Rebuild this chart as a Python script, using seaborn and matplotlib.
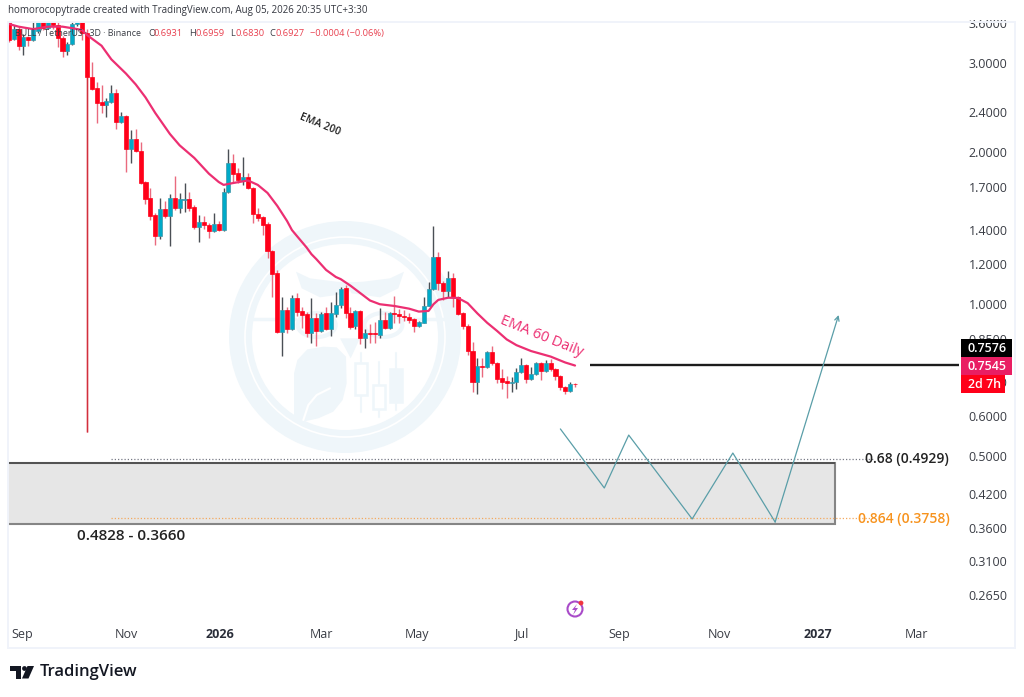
import numpy as np
import pandas as pd
import seaborn as sns
import matplotlib
matplotlib.use("Agg")
import matplotlib.pyplot as plt
import matplotlib.dates as mdates
from matplotlib.patches import Rectangle, Circle, Ellipse, Polygon, Wedge

# 3D candles
opens = [3.75,
    3.347, 3.503, 3.243, 3.378, 3.332, 3.471, 3.72, 3.519, 3.74, 3.567,
    3.363, 3.169, 3.272, 3.584, 3.75, 3.44, 2.814, 2.676, 2.511, 2.476,
    2.511, 2.616, 2.292, 2.356, 2.026, 2.120, 2.008, 1.743, 1.621, 1.500,
    1.363, 1.542, 1.493, 1.621, 1.549, 1.606, 1.614, 1.556, 1.420, 1.453,
    1.433, 1.394, 1.440, 1.400, 1.666, 1.902, 1.817, 1.751, 1.784, 1.696,
    1.507, 1.486, 1.440, 1.272, 1.151, 0.880, 0.972, 0.892, 1.027, 0.968,
    0.955, 0.876, 0.938, 0.884, 0.959, 0.892, 0.955, 0.995, 1.075, 0.959,
    0.904, 0.968, 0.856, 0.876, 0.875, 0.868, 0.929, 0.896, 0.959, 0.955,
    0.946, 0.942, 0.933, 0.904, 0.916, 0.991, 1.070, 1.238, 1.100, 1.060,
    1.125, 1.032, 0.959, 0.904, 0.806, 0.700, 0.753, 0.750, 0.803, 0.763,
    0.713, 0.703, 0.697, 0.700, 0.733, 0.757, 0.710, 0.726, 0.763, 0.736,
    0.763, 0.743, 0.720, 0.685, 0.672, 0.6931]
highs = [3.80,
    3.56, 3.54, 3.43, 3.40, 3.65, 3.80, 3.75, 3.80, 3.85, 3.65,
    3.40, 3.30, 3.64, 3.85, 3.85, 3.50, 3.014, 2.751, 2.714, 2.557,
    2.714, 2.664, 2.399, 2.37, 2.210, 2.220, 2.092, 1.75, 1.696, 1.51,
    1.621, 1.599, 1.651, 1.792, 1.658, 1.735, 1.666, 1.570, 1.500, 1.493,
    1.446, 1.514, 1.459, 1.696, 2.026, 1.981, 1.859, 1.954, 1.817, 1.70,
    1.549, 1.493, 1.453, 1.278, 1.167, 1.032, 0.986, 1.041, 1.051, 0.986,
    0.964, 1.027, 0.959, 0.964, 0.986, 1.009, 1.056, 1.080, 1.09, 0.986,
    0.972, 0.972, 0.892, 0.912, 0.921, 0.982, 0.964, 0.964, 1.037, 0.977,
    0.972, 0.959, 0.938, 0.925, 1.032, 1.105, 1.426, 1.267, 1.11, 1.162,
    1.15, 1.035, 0.965, 0.91, 0.840, 0.781, 0.78, 0.805, 0.825, 0.767,
    0.743, 0.72, 0.717, 0.746, 0.781, 0.76, 0.750, 0.768, 0.768, 0.774,
    0.777, 0.746, 0.722, 0.687, 0.700, 0.6959]
lows = [3.30,
    3.33, 3.183, 3.112, 3.243, 3.32, 3.44, 3.49, 3.50, 3.50, 3.228,
    3.084, 3.112, 3.26, 3.55, 3.332, 0.557, 2.652, 2.282, 2.388, 2.345,
    2.499, 2.220, 2.28, 1.825, 1.902, 2.0, 1.73, 1.577, 1.466, 1.308,
    1.344, 1.480, 1.302, 1.534, 1.514, 1.520, 1.527, 1.407, 1.326, 1.407,
    1.350, 1.39, 1.395, 1.395, 1.658, 1.735, 1.735, 1.720, 1.688, 1.446,
    1.459, 1.369, 1.232, 1.032, 0.876, 0.788, 0.876, 0.888, 0.946, 0.896,
    0.860, 0.836, 0.825, 0.880, 0.888, 0.864, 0.942, 0.982, 0.938, 0.892,
    0.892, 0.833, 0.818, 0.836, 0.836, 0.856, 0.892, 0.892, 0.918, 0.916,
    0.925, 0.916, 0.880, 0.900, 0.914, 0.989, 1.065, 1.065, 1.018, 1.032,
    0.986, 0.952, 0.892, 0.792, 0.669, 0.663, 0.717, 0.747, 0.758, 0.697,
    0.678, 0.651, 0.669, 0.678, 0.730, 0.697, 0.705, 0.722, 0.706, 0.733,
    0.735, 0.705, 0.675, 0.663, 0.670, 0.6830]
closes = [3.332,
    3.503, 3.243, 3.378, 3.332, 3.503, 3.72, 3.519, 3.74, 3.567, 3.363,
    3.169, 3.272, 3.584, 3.75, 3.44, 2.814, 2.664, 2.499, 2.476, 2.522,
    2.616, 2.292, 2.356, 2.026, 2.120, 2.008, 1.735, 1.614, 1.493, 1.363,
    1.542, 1.493, 1.621, 1.549, 1.614, 1.614, 1.549, 1.420, 1.453, 1.433,
    1.394, 1.440, 1.400, 1.666, 1.902, 1.809, 1.759, 1.784, 1.696, 1.507,
    1.480, 1.433, 1.272, 1.146, 0.880, 0.972, 0.892, 1.027, 0.964, 0.951,
    0.876, 0.938, 0.884, 0.955, 0.892, 0.959, 0.995, 1.070, 0.959, 0.900,
    0.968, 0.856, 0.876, 0.872, 0.871, 0.929, 0.896, 0.959, 0.955, 0.946,
    0.942, 0.929, 0.904, 0.921, 0.991, 1.070, 1.238, 1.100, 1.060, 1.125,
    1.032, 0.955, 0.904, 0.806, 0.700, 0.753, 0.750, 0.803, 0.763, 0.710,
    0.700, 0.697, 0.700, 0.733, 0.757, 0.710, 0.726, 0.763, 0.736, 0.763,
    0.743, 0.720, 0.685, 0.672, 0.694, 0.6927]

# EMA line: candle number (first candle = 0) and value
ema_bars = [0, 2, 5, 8, 11, 13, 15, 16, 19, 21, 24, 26, 28, 30, 33, 35, 38, 41, 43, 44,
            46, 49, 51, 53, 55, 57, 58, 59, 61, 62, 63, 65, 67, 68, 70, 72, 74, 76, 79, 82,
            84, 86, 87, 88, 90, 92, 94, 96, 98, 100, 102, 104, 107, 111, 114, 116]
ema_vals = [3.584, 3.54, 3.50, 3.54, 3.54, 3.515, 3.487, 3.409, 3.245, 3.05, 2.858, 2.72,
            2.564, 2.388, 2.17, 2.06, 1.945, 1.81, 1.743, 1.72, 1.735, 1.755, 1.72, 1.658,
            1.563, 1.459, 1.40, 1.363, 1.293, 1.254, 1.226, 1.167, 1.13, 1.119, 1.086, 1.05,
            1.015, 0.998, 0.99, 0.978, 0.965, 0.968, 0.998, 1.018, 1.028, 1.027, 1.003, 0.957,
            0.917, 0.884, 0.85, 0.828, 0.806, 0.786, 0.765, 0.7545]

# hand drawn projection
path_dates = ["2026-07-27", "2026-08-23", "2026-09-07", "2026-10-16", "2026-11-10", "2026-12-06", "2027-01-14"]
path_vals = [0.565, 0.4316, 0.5494, 0.3747, 0.5062, 0.3695, 0.950]

zone_top, zone_bottom = 0.4828, 0.3660
fib_68, fib_864 = 0.4929, 0.3758
level = 0.7576

price_ticks = [3.6, 3.0, 2.4, 2.0, 1.7, 1.4, 1.2, 1.0, 0.85, 0.7, 0.6, 0.5, 0.42, 0.36, 0.31, 0.265]
# labels sit on the first candle slot of the month, so not always on the 1st
month_dates = ["2025-08-30", "2025-11-02", "2025-12-30", "2026-03-02", "2026-04-30", "2026-07-03",
               "2026-09-01", "2026-11-02", "2027-01-01", "2027-03-03"]
month_labels = ["Sep", "Nov", "2026", "Mar", "May", "Jul", "Sep", "Nov", "2027", "Mar"]

sns.set_theme(style="white")
plt.rcParams['font.family'] = ['Open Sans', 'DejaVu Sans']

RED = "#ff0019"
TEAL = "#00aac8"
PINK = "#ec2f72"
PALE = "#eff6fa"
INK = "#2a2e39"

W, H = 1024, 697
fig = plt.figure(figsize=(W / 100, H / 100), dpi=100)


def to_num(d):
    return mdates.date2num(pd.Timestamp(d))


def page_axes(zorder):
    # full page axes working in picture pixels, for the decorations
    a = fig.add_axes([0, 0, 1, 1], zorder=zorder)
    a.set_xlim(0, W)
    a.set_ylim(H, 0)
    a.axis("off")
    a.patch.set_alpha(0)
    return a


# watermark sits behind the chart
back = page_axes(-1)
back.add_patch(Wedge((345, 337), 116, 0, 360, width=23, color=PALE, lw=0))
back.add_patch(Circle((345, 337), 100, fill=False, ec="white", lw=1.2))


def wm(x, y):
    return 220 + x / 3, 210 + y / 3


for pts in ([(228, 185), (270, 205), (350, 215), (405, 218), (385, 250), (300, 262), (245, 235)],
            [(552, 185), (510, 205), (430, 215), (375, 218), (395, 250), (480, 262), (535, 235)],
            [(360, 385), (420, 385), (392, 445)],
            [(222, 490), (232, 450), (262, 418), (310, 410), (350, 412), (378, 440), (380, 520), (368, 570),
             (340, 605), (295, 625), (250, 635), (222, 635)]):
    back.add_patch(Polygon([wm(*p) for p in pts], color=PALE, lw=0))
back.plot(*zip(wm(250, 630), wm(265, 585), wm(290, 555), wm(330, 535)), color="white", lw=1.5)
for cx in (290, 490):
    back.add_patch(Ellipse(wm(cx, 345), 38, 24, fill=False, ec=PALE, lw=3))
for x0, x1 in ((100, 225), (555, 690)):
    back.plot(*zip(wm(x0, 328), wm(x1, 328)), color=PALE, lw=2.5)
for cx, top_y, bot, w0, w1, filled in ((423, 460, 555, 430, 605, False), (477, 525, 598, 455, 620, False),
                                       (529, 477, 575, 430, 600, True)):
    back.plot(*zip(wm(cx, w0), wm(cx, w1)), color=PALE, lw=1.5)
    bx, by = wm(cx - 18, top_y)
    back.add_patch(Rectangle((bx, by), 12, (bot - top_y) / 3, fc=PALE if filled else "white", ec=PALE, lw=1.8, zorder=3))

# main chart
ax = fig.add_axes([8 / W, 1 - 622 / H, (959 - 8) / W, (622 - 22) / H], zorder=1)
ax.patch.set_alpha(0)

bar_dates = pd.date_range(end="2026-08-05", periods=len(opens), freq="3D")
df = pd.DataFrame({"x": mdates.date2num(bar_dates), "o": opens, "h": highs, "l": lows, "c": closes})
df["up"] = df["c"] >= df["o"]
df["top"] = df[["o", "c"]].max(axis=1)
df["bottom"] = df[["o", "c"]].min(axis=1)

ax.set_yscale("log")
for up, wick_col, body_col, edge_col in ((True, "#4a4f55", TEAL, "#3e96a8"), (False, "#ea6a7e", RED, RED)):
    part = df[df["up"] == up]
    ax.vlines(part["x"], part["l"], part["h"], color=wick_col, lw=1, zorder=3)
    ax.bar(part["x"], part["top"] - part["bottom"], bottom=part["bottom"], width=2.5,
           color=body_col, edgecolor=edge_col, linewidth=0.5, zorder=4)
# the long flush wick is darker than the others
flush = df.loc[df["l"].idxmin()]
ax.vlines(flush["x"], flush["l"], flush["bottom"], color="#d22f3c", lw=1, zorder=3)

ema = pd.DataFrame({"x": df["x"].values[ema_bars], "y": ema_vals})
sns.lineplot(data=ema, x="x", y="y", color=PINK, lw=1.6, ax=ax, zorder=5, sort=False, estimator=None)

path = pd.DataFrame({"x": mdates.date2num(pd.to_datetime(path_dates)), "y": path_vals})
sns.lineplot(data=path.iloc[:-1], x="x", y="y", color="#5a9ea8", lw=0.9, ax=ax, zorder=5, sort=False, estimator=None)
# last leg carries the arrow head
ax.annotate("", xy=(path["x"].iloc[-1], path["y"].iloc[-1]), xytext=(path["x"].iloc[-2], path["y"].iloc[-2]),
            arrowprops=dict(arrowstyle="->", color="#5a9ea8", lw=0.9, mutation_scale=8, shrinkA=0, shrinkB=0), zorder=5)

x_left, x_right = to_num("2025-08-21") + 0.5, to_num("2027-03-29")
zone_end = to_num("2027-01-12")
ax.add_patch(Rectangle((x_left - 5, zone_bottom), zone_end - x_left + 5, zone_top - zone_bottom,
                       fc="#e6e6e6", ec="#858585", lw=1.5, zorder=1))
ax.hlines(zone_top, x_left, zone_end, color="#444444", lw=1.1, zorder=1.5)

fib_start, fib_end = to_num("2025-10-24"), to_num("2027-02-04")
ax.hlines(fib_68, fib_start, fib_end, color="#787b86", lw=0.9, ls=(0, (1, 1.6)), zorder=2)
ax.hlines(fib_864, fib_start, fib_end, color="#f4a95f", lw=0.9, ls=(0, (1, 1.6)), zorder=2)
ax.hlines(level, to_num("2026-08-14"), x_right, color="#1c1c1c", lw=1.7, zorder=2)

ax.set_xlim(x_left, x_right)
ax.set_ylim(0.2342, 3.616)
sns.despine(ax=ax, left=True, right=True, top=True, bottom=True)
ax.set_xlabel("")
ax.set_ylabel("")

ax.yaxis.tick_right()
ax.set_yticks(price_ticks)
ax.set_yticklabels([f"{p:.4f}" for p in price_ticks])
ax.minorticks_off()
ax.tick_params(axis="y", length=0, pad=7, labelsize=9, labelcolor="#3a3d45")
ax.set_xticks([to_num(d) for d in month_dates])
ax.set_xticklabels(month_labels)
ax.tick_params(axis="x", length=0, pad=4, labelsize=9, labelcolor="#3a3d45")
for lab in ax.get_xticklabels():
    if lab.get_text().startswith("20"):
        lab.set_fontweight("bold")
        lab.set_color(INK)

# everything on top: headers, labels, price tags, logo
top = page_axes(5)
top.add_patch(Rectangle((958, 0), 66, 20, fc="white", lw=0))
top.add_patch(Rectangle((8, 22), 1007, 626, fill=False, ec="#f0f3fa", lw=1.4))

top.text(8, 11, "homorocopytrade created with TradingView.com, Aug 05, 2026 20:35 UTC+3:30",
         fontsize=7.0, color="#33363f", va="center", ha="left")
top.text(15, 33.5, "BULL / TetherUS · 3D · Binance", fontsize=6.4, color="#3a3d45", va="center")
for xp, tx, col in ((148, "O", "#3a3d45"), (153, "0.6931", "#e8404f"), (189, "H", "#3a3d45"), (195, "0.6959", "#e8404f"),
                    (230, "L", "#3a3d45"), (235, "0.6830", "#e8404f"), (269, "C", "#3a3d45"), (276, "0.6927", "#e8404f"),
                    (310, "−0.0004 (−0.06%)", "#e8404f")):
    top.text(xp, 33.5, tx, fontsize=6.7, color=col, va="center")

top.text(320, 125, "EMA 200", fontsize=7.5, color="#222", rotation=-22, ha="center", va="center", fontweight="semibold")
top.text(542, 337, "EMA 60 Daily", fontsize=10.5, color=PINK, rotation=-22, ha="center", va="center", fontweight="medium")

top.text(907, 459, "0.68 (0.4929)", fontsize=10, color="#222", ha="center", va="center", fontweight="semibold")
top.text(904, 519, "0.864 (0.3758)", fontsize=10, color="#f7931e", ha="center", va="center", fontweight="semibold")
top.text(131, 536, "0.4828 - 0.3660", fontsize=11, color="#222", ha="center", va="center", fontweight="semibold")

for y0, y1, x1, col, tx in ((339, 357, 1012, "#000000", "0.7576"), (357, 375, 1012, "#e91e63", "0.7545"),
                            (375, 393, 1005, RED, "2d 7h")):
    top.add_patch(Rectangle((961, y0), x1 - 961, y1 - y0, fc=col, lw=0))
    top.text(968, (y0 + y1) / 2, tx, fontsize=9, color="white", va="center", fontweight="semibold")

# little purple bolt badge
top.add_patch(Circle((575, 609), 7.5, fill=False, ec="#a94bc9", lw=1.5))
top.add_patch(Polygon([(577, 604), (572, 610), (575, 610), (573, 615), (578, 608), (575, 608)], color="#a94bc9", lw=0))
top.add_patch(Circle((581, 603), 2.4, color="#f0353f", lw=0))

# TradingView logo
top.add_patch(Polygon([(10, 666), (21, 666), (21, 678.5), (15.5, 678.5), (15.5, 671), (10, 671)], color="#131722", lw=0))
top.add_patch(Circle((24.5, 668.5), 2.4, color="#131722", lw=0))
top.add_patch(Polygon([(27.5, 666), (34, 666), (28.5, 678.5), (22, 678.5)], color="#131722", lw=0))
top.text(40, 672.5, "TradingView", fontsize=12, color="#131722", va="center", fontweight="semibold")

fig.savefig("out.png", dpi=100)
